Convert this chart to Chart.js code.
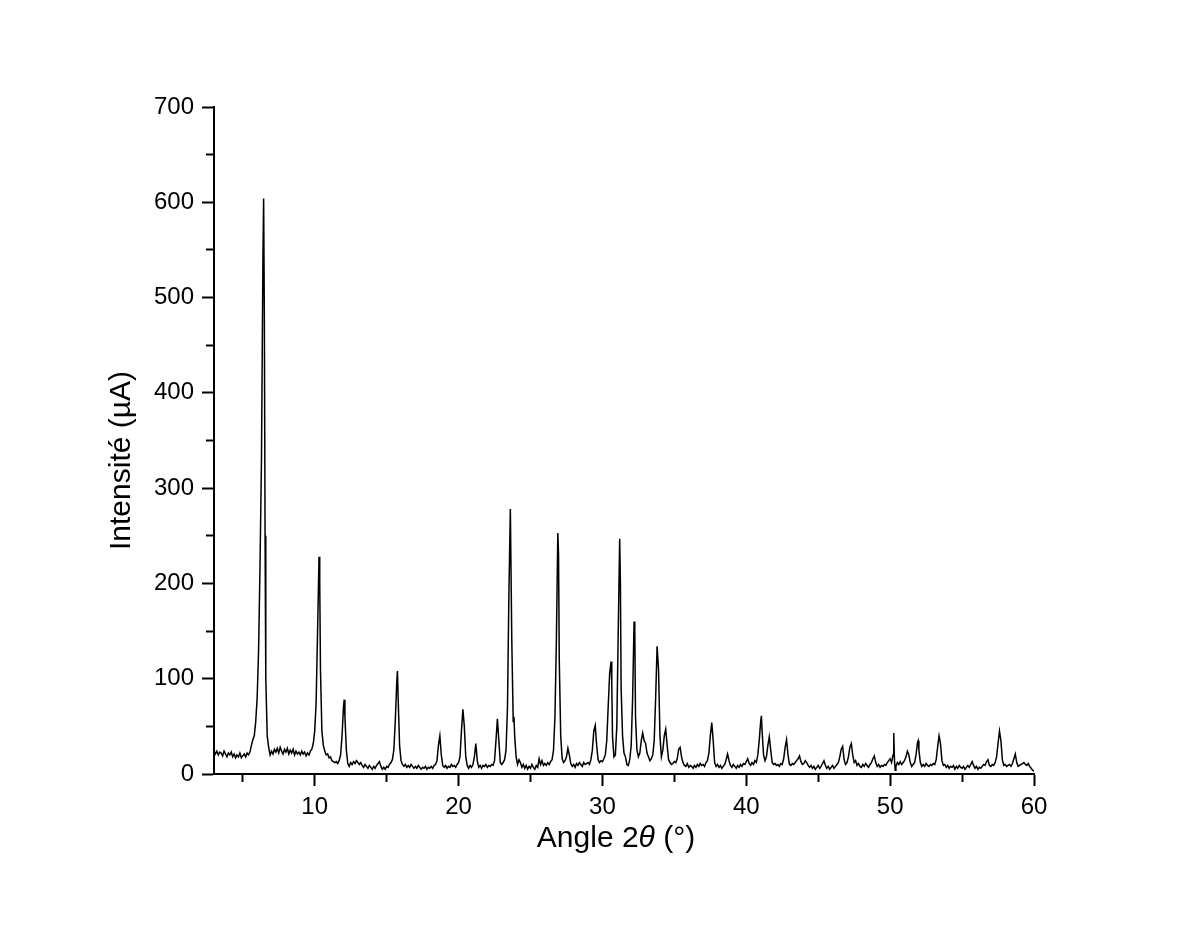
<!DOCTYPE html>
<html lang="fr">
<head>
<meta charset="UTF-8">
<title>Diffractogramme</title>
<script src="https://cdn.jsdelivr.net/npm/chart.js"></script>
<style>
  body { margin: 0; background: #fff; }
  #wrap { width: 1200px; height: 927px; }
</style>
</head>
<body>
<div id="wrap"><canvas id="xrd" width="1200" height="927"></canvas></div>
<script>
// Angle 2θ (°)
const angle = [
  3.0, 3.1, 3.2, 3.3, 3.4, 3.5, 3.6, 3.7, 3.8, 3.9,
  4.0, 4.1, 4.2, 4.3, 4.4, 4.5, 4.6, 4.7, 4.8, 4.9,
  5.0, 5.1, 5.2, 5.3, 5.4, 5.5, 5.6, 5.7, 5.8, 5.9,
  6.0, 6.1, 6.2, 6.3, 6.4, 6.45, 6.5, 6.55, 6.6, 6.7,
  6.8, 6.9, 7.0, 7.1, 7.2, 7.3, 7.4, 7.5, 7.6, 7.7,
  7.8, 7.9, 8.0, 8.1, 8.2, 8.3, 8.4, 8.5, 8.6, 8.7,
  8.8, 8.9, 9.0, 9.1, 9.2, 9.3, 9.4, 9.5, 9.6, 9.7,
  9.8, 9.9, 10.0, 10.1, 10.2, 10.3, 10.35, 10.4, 10.5, 10.6,
  10.7, 10.8, 10.9, 11.0, 11.1, 11.2, 11.3, 11.4, 11.5, 11.6,
  11.7, 11.8, 11.9, 12.0, 12.05, 12.1, 12.2, 12.3, 12.4, 12.5,
  12.6, 12.7, 12.8, 12.9, 13.0, 13.1, 13.2, 13.3, 13.4, 13.5,
  13.6, 13.7, 13.8, 13.9, 14.0, 14.1, 14.2, 14.3, 14.4, 14.5,
  14.6, 14.7, 14.8, 14.9, 15.0, 15.1, 15.2, 15.3, 15.4, 15.5,
  15.6, 15.7, 15.75, 15.8, 15.9, 16.0, 16.1, 16.2, 16.3, 16.4,
  16.5, 16.6, 16.7, 16.8, 16.9, 17.0, 17.1, 17.2, 17.3, 17.4,
  17.5, 17.6, 17.7, 17.8, 17.9, 18.0, 18.1, 18.2, 18.3, 18.4,
  18.5, 18.6, 18.7, 18.8, 18.9, 19.0, 19.1, 19.2, 19.3, 19.4,
  19.5, 19.6, 19.7, 19.8, 19.9, 20.0, 20.1, 20.2, 20.3, 20.4,
  20.5, 20.6, 20.7, 20.8, 20.9, 21.0, 21.1, 21.2, 21.3, 21.4,
  21.5, 21.6, 21.7, 21.8, 21.9, 22.0, 22.1, 22.2, 22.3, 22.4,
  22.5, 22.6, 22.7, 22.8, 22.9, 23.0, 23.1, 23.2, 23.3, 23.4,
  23.5, 23.6, 23.7, 23.8, 23.85, 23.9, 24.0, 24.1, 24.2, 24.3,
  24.4, 24.5, 24.6, 24.7, 24.8, 24.9, 25.0, 25.1, 25.2, 25.3,
  25.4, 25.5, 25.6, 25.7, 25.8, 25.9, 26.0, 26.1, 26.2, 26.3,
  26.4, 26.5, 26.6, 26.7, 26.8, 26.9, 26.95, 27.0, 27.1, 27.2,
  27.3, 27.4, 27.5, 27.6, 27.7, 27.8, 27.9, 28.0, 28.1, 28.2,
  28.3, 28.4, 28.5, 28.6, 28.7, 28.8, 28.9, 29.0, 29.1, 29.2,
  29.3, 29.4, 29.5, 29.6, 29.7, 29.8, 29.9, 30.0, 30.1, 30.2,
  30.3, 30.4, 30.5, 30.6, 30.65, 30.7, 30.8, 30.9, 31.0, 31.1,
  31.2, 31.25, 31.3, 31.4, 31.5, 31.6, 31.7, 31.8, 31.9, 32.0,
  32.1, 32.2, 32.25, 32.3, 32.4, 32.5, 32.6, 32.7, 32.8, 32.9,
  33.0, 33.1, 33.2, 33.3, 33.4, 33.5, 33.6, 33.7, 33.8, 33.9,
  34.0, 34.1, 34.2, 34.3, 34.4, 34.5, 34.6, 34.7, 34.8, 34.9,
  35.0, 35.1, 35.2, 35.3, 35.4, 35.5, 35.6, 35.7, 35.8, 35.9,
  36.0, 36.1, 36.2, 36.3, 36.4, 36.5, 36.6, 36.7, 36.8, 36.9,
  37.0, 37.1, 37.2, 37.3, 37.4, 37.5, 37.6, 37.7, 37.8, 37.9,
  38.0, 38.1, 38.2, 38.3, 38.4, 38.5, 38.6, 38.7, 38.8, 38.9,
  39.0, 39.1, 39.2, 39.3, 39.4, 39.5, 39.6, 39.7, 39.8, 39.9,
  40.0, 40.1, 40.2, 40.3, 40.4, 40.5, 40.6, 40.7, 40.8, 40.9,
  41.0, 41.05, 41.1, 41.2, 41.3, 41.4, 41.5, 41.6, 41.7, 41.8,
  41.9, 42.0, 42.1, 42.2, 42.3, 42.4, 42.5, 42.6, 42.7, 42.8,
  42.9, 43.0, 43.1, 43.2, 43.3, 43.4, 43.5, 43.6, 43.7, 43.8,
  43.9, 44.0, 44.1, 44.2, 44.3, 44.4, 44.5, 44.6, 44.7, 44.8,
  44.9, 45.0, 45.1, 45.2, 45.3, 45.4, 45.5, 45.6, 45.7, 45.8,
  45.9, 46.0, 46.1, 46.2, 46.3, 46.4, 46.5, 46.6, 46.7, 46.8,
  46.9, 47.0, 47.1, 47.2, 47.3, 47.4, 47.5, 47.6, 47.7, 47.8,
  47.9, 48.0, 48.1, 48.2, 48.3, 48.4, 48.5, 48.6, 48.7, 48.8,
  48.9, 49.0, 49.1, 49.2, 49.3, 49.4, 49.5, 49.6, 49.7, 49.8,
  49.9, 50.0, 50.1, 50.2, 50.25, 50.3, 50.35, 50.4, 50.5, 50.6,
  50.7, 50.8, 50.9, 51.0, 51.1, 51.2, 51.3, 51.4, 51.5, 51.6,
  51.7, 51.8, 51.9, 51.95, 52.0, 52.1, 52.2, 52.3, 52.4, 52.5,
  52.6, 52.7, 52.8, 52.9, 53.0, 53.1, 53.2, 53.3, 53.4, 53.5,
  53.6, 53.7, 53.8, 53.9, 54.0, 54.1, 54.2, 54.3, 54.4, 54.5,
  54.6, 54.7, 54.8, 54.9, 55.0, 55.1, 55.2, 55.3, 55.4, 55.5,
  55.6, 55.7, 55.8, 55.9, 56.0, 56.1, 56.2, 56.3, 56.4, 56.5,
  56.6, 56.7, 56.8, 56.9, 57.0, 57.1, 57.2, 57.3, 57.4, 57.5,
  57.6, 57.7, 57.8, 57.9, 58.0, 58.1, 58.2, 58.3, 58.4, 58.5,
  58.6, 58.7, 58.8, 58.9, 59.0, 59.1, 59.2, 59.3, 59.4, 59.5,
  59.6, 59.7, 59.8, 59.9, 60.0
];

// Intensité (µA), one value per angle above
const intensity = [
  25, 21, 24, 20, 23, 22, 19, 24, 21, 18,
  22, 20, 23, 18, 21, 17, 20, 18, 22, 17,
  19, 21, 18, 22, 20, 23, 30, 36, 40, 55,
  80, 130, 220, 330, 540, 604, 480, 250, 100, 40,
  28, 20, 24, 21, 26, 23, 27, 22, 28, 24,
  21, 26, 23, 27, 21, 25, 22, 26, 20, 24,
  21, 23, 20, 24, 21, 23, 19, 22, 20, 24,
  26, 32, 45, 75, 150, 228, 200, 110, 45, 30,
  24, 20, 21, 17, 18, 14, 13, 12, 13, 11,
  14, 20, 40, 70, 78, 60, 25, 11, 8, 12,
  10, 13, 11, 14, 12, 10, 12, 9, 7, 10,
  8, 6, 9, 7, 5, 8, 6, 9, 11, 13,
  8, 5, 7, 5, 8, 7, 10, 12, 15, 25,
  55, 95, 108, 80, 30, 14, 10, 8, 10, 7,
  9, 7, 10, 8, 6, 8, 6, 9, 7, 5,
  7, 6, 8, 5, 7, 6, 8, 6, 9, 10,
  14, 30, 40, 20, 9, 7, 9, 6, 8, 7,
  10, 8, 9, 7, 10, 12, 18, 45, 68, 50,
  18, 9, 6, 9, 7, 10, 18, 32, 14, 7,
  9, 6, 9, 8, 10, 7, 9, 8, 10, 9,
  14, 35, 58, 35, 12, 10, 12, 15, 25, 70,
  190, 278, 140, 55, 60, 40, 18, 10, 15, 12,
  7, 10, 6, 9, 5, 8, 6, 10, 7, 5,
  9, 7, 16, 10, 14, 9, 11, 9, 12, 10,
  13, 15, 25, 60, 140, 253, 230, 120, 40, 16,
  12, 14, 18, 27, 20, 11, 8, 10, 7, 11,
  9, 12, 10, 8, 12, 10, 11, 12, 10, 15,
  25, 45, 51, 30, 15, 12, 14, 13, 16, 20,
  35, 70, 105, 118, 95, 40, 18, 20, 50, 150,
  247, 200, 90, 40, 22, 18, 10, 9, 15, 30,
  80, 160, 150, 60, 25, 18, 22, 35, 43, 35,
  32, 22, 18, 14, 16, 20, 35, 80, 134, 110,
  40, 18, 25, 40, 47, 30, 15, 12, 10, 11,
  13, 12, 16, 26, 28, 18, 12, 9, 8, 11,
  7, 9, 8, 6, 9, 7, 10, 8, 11, 9,
  10, 8, 12, 14, 22, 40, 54, 35, 12, 8,
  10, 7, 9, 6, 8, 10, 15, 21, 14, 9,
  7, 10, 8, 6, 9, 7, 10, 8, 11, 10,
  13, 16, 11, 9, 12, 10, 14, 12, 20, 35,
  55, 61, 45, 20, 14, 18, 30, 39, 25, 12,
  10, 11, 9, 10, 8, 11, 10, 16, 28, 36,
  20, 10, 9, 11, 10, 12, 14, 16, 19, 13,
  10, 11, 14, 12, 9, 7, 9, 6, 8, 5,
  7, 9, 6, 8, 11, 14, 9, 6, 8, 5,
  7, 9, 6, 8, 10, 12, 18, 26, 29, 15,
  10, 12, 18, 28, 32, 20, 12, 14, 9, 11,
  8, 7, 10, 8, 11, 9, 7, 10, 12, 16,
  19, 12, 8, 10, 7, 9, 8, 10, 9, 12,
  14, 16, 12, 20, 43, 15, 4, 8, 12, 10,
  13, 10, 12, 14, 18, 24, 20, 12, 8, 10,
  12, 20, 33, 35, 25, 12, 8, 10, 8, 11,
  9, 8, 10, 9, 11, 10, 15, 28, 40, 32,
  14, 9, 10, 7, 9, 6, 8, 7, 9, 5,
  8, 6, 9, 7, 6, 8, 5, 7, 9, 7,
  10, 13, 9, 6, 8, 5, 7, 6, 8, 10,
  9, 13, 15, 9, 8, 10, 9, 12, 18, 32,
  45, 35, 15, 9, 10, 8, 9, 10, 8, 11,
  16, 21, 12, 8, 9, 10, 11, 12, 10, 9,
  11, 8, 6, 4, 3
];

// axis ranges and tick spacing
const xRange = [3, 60];
const xMajor = 10, xMinor = 5;
const yRange = [0, 700];
const yMajor = 100, yMinor = 50;

const FONT = '"Liberation Sans", Arial, Helvetica, sans-serif';

const points = angle.map((a, i) => ({ x: a, y: intensity[i] }));

const isMinor = (ctx, major) => ctx.tick && Math.abs(ctx.tick.value % major) > 1e-6;

// axis titles drawn by hand so the theta can be italic
const axisTitles = {
  id: 'axisTitles',
  afterDraw(chart) {
    const { ctx, chartArea: a } = chart;
    ctx.save();
    ctx.fillStyle = '#000';
    ctx.textBaseline = 'alphabetic';

    const parts = [['Angle 2', ''], ['θ', 'italic '], [' (°)', '']];
    const size = 30;
    let total = 0;
    parts.forEach(p => {
      ctx.font = p[1] + size + 'px ' + FONT;
      p.push(ctx.measureText(p[0]).width);
      total += p[2];
    });
    let x = (a.left + a.right) / 2 - 8 - total / 2;
    const y = a.bottom + 73;
    ctx.textAlign = 'left';
    parts.forEach(p => {
      ctx.font = p[1] + size + 'px ' + FONT;
      ctx.fillText(p[0], x, y);
      x += p[2];
    });

    ctx.translate(a.left - 84, (a.top + a.bottom) / 2 + 20);
    ctx.rotate(-Math.PI / 2);
    ctx.textAlign = 'center';
    ctx.font = '30px ' + FONT;
    ctx.fillText('Intensité (µA)', 0, 0);
    ctx.restore();
  }
};

new Chart(document.getElementById('xrd'), {
  type: 'line',
  data: {
    datasets: [{
      data: points,
      borderColor: '#000',
      borderWidth: 1.5,
      pointRadius: 0,
      tension: 0,
      fill: false
    }]
  },
  options: {
    responsive: false,
    animation: false,
    layout: { padding: { top: 107, right: 166, left: 0, bottom: 0 } },
    plugins: { legend: { display: false }, tooltip: { enabled: false } },
    scales: {
      x: {
        type: 'linear',
        min: xRange[0],
        max: xRange[1],
        afterFit: s => { s.height = 153; },
        afterBuildTicks: s => { s.ticks = s.ticks.filter(t => t.value % xMinor === 0); },
        border: { display: true, color: '#000', width: 2 },
        grid: {
          drawOnChartArea: false,
          drawTicks: true,
          tickLength: 12,
          tickWidth: 2,
          tickColor: '#000',
          tickBorderDash: ctx => isMinor(ctx, xMajor) ? [7, 30] : []
        },
        ticks: {
          stepSize: xMinor,
          autoSkip: false,
          maxRotation: 0,
          padding: 7,
          color: '#000',
          font: { family: FONT, size: 24 },
          callback: v => v % xMajor === 0 ? v : ''
        }
      },
      y: {
        min: yRange[0],
        max: yRange[1],
        afterFit: s => { s.width = 214; },
        border: { display: true, color: '#000', width: 2 },
        grid: {
          drawOnChartArea: false,
          drawTicks: true,
          tickLength: 12,
          tickWidth: 2,
          tickColor: '#000',
          tickBorderDash: ctx => isMinor(ctx, yMajor) ? [7, 4] : [],
          tickBorderDashOffset: ctx => isMinor(ctx, yMajor) ? 7 : 0
        },
        ticks: {
          stepSize: yMinor,
          autoSkip: false,
          padding: 8,
          color: '#000',
          font: { family: FONT, size: 24 },
          callback: v => v % yMajor === 0 ? v : ''
        }
      }
    }
  },
  plugins: [axisTitles]
});
</script>
</body>
</html>
